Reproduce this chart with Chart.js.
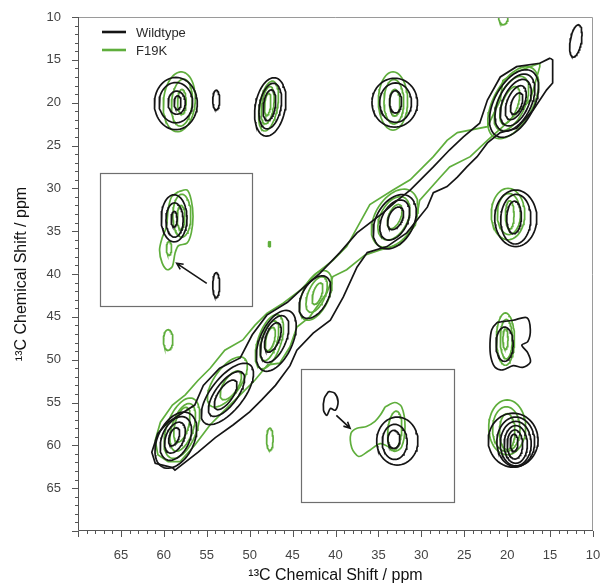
<!DOCTYPE html>
<html>
<head>
<meta charset="utf-8">
<script src="https://cdn.jsdelivr.net/npm/chart.js@4.4.1/dist/chart.umd.min.js"></script>
<style>
  html, body { margin: 0; padding: 0; background: #fff; }
  #wrap { width: 603px; height: 588px; }
</style>
</head>
<body>
<div id="wrap"><canvas id="chartNmr"></canvas></div>
<script>
// axis labels (ppm)
var xTickLabels = [65, 60, 55, 50, 45, 40, 35, 30, 25, 20, 15, 10];
var yTickLabels = [10, 15, 20, 25, 30, 35, 40, 45, 50, 55, 60, 65];

// contour rings: [shift x, shift y, semi-axis a, semi-axis b, angle of a (deg)] in ppm
var wildtypeRings = [
  [58.6, 59.4, 3.5, 2.1, 64], [58.6, 59.2, 2.7, 1.6, 66], [58.7, 59.1, 1.9, 1.05, 68], [58.8, 59.0, 1.1, 0.55, 70],
  [52.6, 54.0, 4.3, 1.9, 52], [52.7, 54.0, 3.1, 1.3, 54], [52.8, 54.1, 2.0, 0.85, 56],
  [46.9, 47.8, 3.8, 1.9, 66], [47.1, 47.6, 2.9, 1.35, 68], [47.3, 47.4, 1.8, 0.8, 70],
  [42.4, 42.7, 2.7, 1.5, 62],
  [33.1, 33.9, 3.4, 2.2, 62], [33.1, 33.7, 2.5, 1.5, 64], [33.0, 33.5, 1.4, 0.8, 66],
  [19.2, 20.1, 4.3, 2.3, 62], [19.1, 20.0, 3.6, 1.9, 64], [19.0, 20.0, 2.9, 1.5, 66], [19.0, 20.0, 2.1, 1.0, 68], [18.9, 20.1, 1.3, 0.6, 70],
  [58.6, 20.1, 3.05, 2.5, 90], [58.6, 20.0, 2.35, 1.95, 90], [58.5, 20.0, 1.35, 1.0, 90], [58.4, 20.0, 0.8, 0.4, 90],
  [53.9, 19.7, 1.15, 0.4, 90],
  [47.6, 20.5, 3.45, 1.75, 80], [47.6, 20.4, 2.7, 1.25, 80], [47.7, 20.3, 1.8, 0.7, 82],
  [33.1, 20.0, 2.85, 2.65, 90], [33.0, 20.0, 2.3, 1.85, 90], [33.0, 19.9, 1.3, 0.7, 90],
  [12.0, 12.8, 1.9, 0.65, 80],
  [19.0, 33.5, 3.3, 2.45, 90], [19.0, 33.6, 2.9, 1.75, 88], [19.2, 33.4, 1.9, 0.85, 88],
  [20.3, 48.2, 2.0, 1.0, 90],
  [19.3, 59.4, 3.15, 2.9, 90], [19.0, 59.6, 2.9, 2.2, 90], [19.0, 59.8, 2.6, 1.8, 90], [19.0, 59.9, 2.2, 1.35, 90], [19.1, 59.9, 1.7, 0.9, 90], [19.2, 59.7, 1.0, 0.45, 90],
  [58.8, 33.5, 2.75, 1.5, 90], [58.75, 33.7, 2.0, 1.0, 90], [58.8, 33.6, 0.9, 0.35, 90],
  [53.9, 41.3, 1.45, 0.4, 90],
  [32.8, 59.5, 2.8, 2.4, 90], [33.1, 59.6, 2.05, 1.45, 90], [33.2, 59.3, 1.05, 0.7, 90]
];

var f19kRings = [
  [57.9, 58.0, 3.7, 1.75, 70], [57.8, 57.9, 2.9, 1.25, 72], [57.9, 57.6, 2.1, 0.8, 75],
  [52.6, 52.6, 3.4, 1.55, 55], [52.2, 53.0, 1.9, 0.85, 58],
  [47.7, 47.9, 3.3, 1.35, 72], [47.7, 47.8, 2.4, 0.9, 74], [47.6, 47.6, 1.4, 0.5, 76],
  [42.3, 42.5, 3.1, 1.55, 66], [42.2, 42.4, 2.2, 1.0, 68], [42.1, 42.3, 1.3, 0.5, 72],
  [33.1, 33.5, 3.7, 2.3, 60], [33.2, 33.5, 2.7, 1.6, 64], [33.1, 33.3, 1.5, 0.7, 68],
  [19.3, 20.0, 4.6, 2.3, 62], [19.5, 20.1, 3.4, 1.6, 66], [19.7, 20.3, 2.3, 0.9, 70],
  [58.2, 19.9, 3.5, 1.85, 85], [57.9, 20.0, 2.75, 1.2, 85], [57.9, 19.9, 1.45, 0.5, 90],
  [47.8, 20.4, 2.95, 1.05, 80], [47.9, 20.3, 2.2, 0.7, 82], [47.9, 20.2, 1.3, 0.35, 85],
  [33.3, 19.8, 3.4, 1.7, 90], [33.2, 19.9, 2.6, 1.15, 90], [33.1, 20.0, 1.55, 0.6, 90],
  [20.45, 9.9, 1.0, 0.55, 90],
  [19.9, 33.0, 3.0, 1.95, 90], [19.8, 33.0, 2.4, 1.35, 90], [19.7, 33.1, 1.65, 0.5, 90],
  [20.2, 47.6, 3.05, 1.05, 90], [20.1, 47.6, 2.3, 0.7, 90], [20.2, 47.6, 1.2, 0.3, 90],
  [20.0, 57.9, 3.2, 2.15, 90], [20.1, 58.1, 2.6, 1.6, 90], [20.0, 58.4, 2.1, 0.9, 90],
  [47.7, 36.5, 0.3, 0.12, 90],
  [59.5, 47.7, 1.2, 0.55, 90],
  [47.65, 59.3, 1.3, 0.38, 90],
  [57.9, 33.2, 2.5, 1.05, 90], [58.0, 33.4, 1.4, 0.45, 90], [59.4, 37.0, 0.8, 0.3, 90],
  [33.1, 58.3, 2.3, 0.8, 85]
];

// traced outer contours, [x, y] in ppm
var wildtypeDiagonal = [
  [15.0, 14.8], [16.2, 15.4], [18.9, 15.8], [20.8, 17.0], [22.3, 19.7], [23.2, 22.4], [25.1, 24.0], [26.7, 25.5],
  [28.6, 27.5], [31.3, 30.2], [32.8, 31.4], [34.5, 32.9], [37.5, 35.2], [39.5, 37.5], [41.8, 39.9], [44.1, 41.9],
  [45.6, 43.3], [48.0, 44.8], [49.7, 47.1], [51.1, 49.8], [53.5, 51.0], [55.4, 53.0], [56.4, 55.3], [57.8, 56.2],
  [59.5, 57.3], [60.7, 58.6], [61.4, 60.8], [61.0, 62.1], [59.0, 62.6],
  [58.7, 62.9], [56.0, 60.8], [54.0, 59.1], [51.9, 57.6], [50.0, 56.1], [48.6, 54.7], [47.0, 53.0], [45.3, 50.7],
  [44.5, 48.9], [42.6, 46.9], [40.6, 45.4], [39.1, 42.7], [37.5, 39.2], [36.3, 37.5], [34.0, 36.8], [31.7, 35.2],
  [29.3, 32.2], [28.6, 30.5], [27.0, 29.8], [25.8, 28.7], [24.7, 27.5], [23.5, 26.3], [22.3, 24.7], [20.8, 23.5],
  [18.9, 23.0], [17.0, 20.9], [15.4, 18.5], [14.7, 17.7], [14.7, 15.0]
];
var wildtypeCross48 = [
  [20.8, 45.6], [19.3, 45.4], [17.7, 45.1], [17.3, 46.5], [17.6, 47.9], [18.3, 48.3], [17.6, 49.2], [17.3, 50.3],
  [18.2, 50.9], [19.3, 50.7], [20.5, 51.2], [21.4, 50.9], [21.9, 49.7], [22.0, 48.1], [21.8, 46.5], [21.2, 45.7]
];
var wildtypeInsetSmall = [
  [40.8, 53.7], [40.1, 53.9], [39.7, 54.9], [40.0, 55.9], [40.6, 55.7], [41.0, 56.5], [41.4, 55.9], [41.3, 54.5]
];

var f19kDiagonal = [
  [16.2, 15.4], [18.9, 16.4], [20.5, 17.4], [20.8, 19.7], [22.3, 22.8], [25.8, 23.5], [27.0, 24.4], [28.6, 26.3],
  [31.3, 29.0], [33.3, 30.2], [36.0, 31.9], [38.7, 36.8], [40.3, 38.4], [42.2, 39.9], [44.1, 41.9], [46.1, 43.4],
  [48.0, 44.6], [49.4, 46.0], [50.8, 47.7], [52.9, 48.9], [54.6, 51.0], [56.0, 52.4], [57.5, 54.1], [59.0, 55.3],
  [60.4, 57.3], [61.0, 59.4], [60.7, 61.1], [59.5, 61.9],
  [58.1, 61.9], [56.4, 60.0], [54.6, 57.6], [52.9, 55.9], [51.1, 54.1], [49.4, 52.4], [47.9, 50.6], [46.5, 50.4],
  [45.3, 48.5], [44.5, 46.2], [43.0, 45.0], [41.0, 42.2], [40.3, 40.3], [38.7, 39.5], [36.6, 37.8], [34.8, 37.2],
  [32.5, 36.6], [30.7, 34.3], [30.2, 31.4], [27.8, 28.7], [26.7, 27.5], [24.3, 26.3], [22.3, 24.4], [20.5, 22.8],
  [17.3, 19.7], [16.2, 15.8]
];
var f19kInset1 = [
  [58.3, 30.4], [57.3, 30.2], [56.8, 31.4], [56.6, 33.3], [56.8, 35.2], [57.3, 36.4], [58.3, 36.7], [58.7, 37.6],
  [59.0, 39.1], [59.6, 39.5], [60.2, 38.7], [60.5, 37.2], [60.2, 35.8], [59.7, 34.5], [59.5, 32.5], [59.1, 31.0]
];
var f19kInset2 = [
  [34.2, 55.5], [33.1, 55.0], [32.3, 55.5], [31.9, 57.8], [32.3, 60.2], [33.1, 60.7], [33.8, 60.2], [34.8, 59.8],
  [36.2, 60.7], [37.3, 61.3], [38.1, 60.3], [38.2, 58.6], [37.5, 58.0], [36.4, 57.8], [35.4, 57.2], [34.8, 56.5]
];

// inset frames [x1, y1, x2, y2] and arrows [from x, from y, to x, to y], ppm
var insetBoxes = [[67.4, 28.2, 49.7, 43.7], [44.0, 51.1, 26.2, 66.6]];
var insetArrows = [[55.0, 41.1, 58.5, 38.75], [39.9, 56.5, 38.3, 58.0]];

(function () {
  "use strict";

  var BLACK = "#151515";
  var GREEN = "#5fae3c";
  var FONT = "'Liberation Sans', Arial, sans-serif";

  function ringPoints(r) {
    var pts = [];
    var th = r[4] * Math.PI / 180;
    for (var i = 0; i <= 60; i++) {
      var t = i / 60 * 2 * Math.PI;
      var u = r[2] * Math.cos(t), v = r[3] * Math.sin(t);
      pts.push({ x: r[0] + u * Math.cos(th) - v * Math.sin(th), y: r[1] + u * Math.sin(th) + v * Math.cos(th) });
    }
    return pts;
  }

  function outlinePoints(list) {
    var pts = list.map(function (p) { return { x: p[0], y: p[1] }; });
    pts.push({ x: list[0][0], y: list[0][1] });
    return pts;
  }

  function contour(points, color, tension) {
    return {
      data: points,
      showLine: true,
      borderColor: color,
      borderWidth: 1.7,
      pointRadius: 0,
      tension: tension || 0,
      fill: false
    };
  }

  var datasets = [];
  datasets.push(contour(outlinePoints(wildtypeDiagonal), BLACK));
  datasets.push(contour(outlinePoints(wildtypeCross48), BLACK, 0.3));
  datasets.push(contour(outlinePoints(wildtypeInsetSmall), BLACK, 0.3));
  wildtypeRings.forEach(function (r) { datasets.push(contour(ringPoints(r), BLACK)); });
  datasets.push(contour(outlinePoints(f19kDiagonal), GREEN));
  datasets.push(contour(outlinePoints(f19kInset1), GREEN, 0.3));
  datasets.push(contour(outlinePoints(f19kInset2), GREEN, 0.3));
  f19kRings.forEach(function (r) { datasets.push(contour(ringPoints(r), GREEN)); });

  // frame, minor ticks, insets, arrows and legend
  var decorPlugin = {
    id: "decor",
    afterDatasetsDraw: function (chart) {
      var ctx = chart.ctx;
      var a = chart.chartArea;
      var xs = chart.scales.x, ys = chart.scales.y;
      ctx.save();

      // inset boxes
      ctx.strokeStyle = "#6e6e6e";
      ctx.lineWidth = 1.2;
      insetBoxes.forEach(function (b) {
        var x1 = xs.getPixelForValue(b[0]), y1 = ys.getPixelForValue(b[1]);
        var x2 = xs.getPixelForValue(b[2]), y2 = ys.getPixelForValue(b[3]);
        ctx.strokeRect(Math.round(x1) + 0.5, Math.round(y1) + 0.5, Math.round(x2 - x1), Math.round(y2 - y1));
      });

      // arrows
      ctx.strokeStyle = BLACK;
      ctx.lineWidth = 1.6;
      insetArrows.forEach(function (r) {
        var x1 = xs.getPixelForValue(r[0]), y1 = ys.getPixelForValue(r[1]);
        var x2 = xs.getPixelForValue(r[2]), y2 = ys.getPixelForValue(r[3]);
        var ang = Math.atan2(y2 - y1, x2 - x1);
        ctx.beginPath();
        ctx.moveTo(x1, y1);
        ctx.lineTo(x2, y2);
        ctx.moveTo(x2 - 7 * Math.cos(ang - 0.45), y2 - 7 * Math.sin(ang - 0.45));
        ctx.lineTo(x2, y2);
        ctx.lineTo(x2 - 7 * Math.cos(ang + 0.45), y2 - 7 * Math.sin(ang + 0.45));
        ctx.stroke();
      });

      // plot frame
      ctx.lineWidth = 1;
      ctx.strokeStyle = "#9a9a9a";
      ctx.beginPath();
      ctx.moveTo(a.left, a.top + 0.5);
      ctx.lineTo(a.right - 0.5, a.top + 0.5);
      ctx.lineTo(a.right - 0.5, a.bottom);
      ctx.stroke();
      ctx.strokeStyle = "#555";
      ctx.beginPath();
      ctx.moveTo(a.left + 0.5, a.top);
      ctx.lineTo(a.left + 0.5, a.bottom - 0.5);
      ctx.lineTo(a.right, a.bottom - 0.5);
      ctx.stroke();

      // ticks, every ppm, longer at labels
      ctx.beginPath();
      for (var v = 10; v <= 70; v++) {
        var len = v % 5 === 0 ? 6 : 3;
        var px = Math.round(xs.getPixelForValue(v)) + 0.5;
        ctx.moveTo(px, a.bottom);
        ctx.lineTo(px, a.bottom + len);
        var py = Math.round(ys.getPixelForValue(v)) + 0.5;
        ctx.moveTo(a.left, py);
        ctx.lineTo(a.left - len, py);
      }
      ctx.stroke();

      // legend
      var lx = a.left + 24, ly = a.top + 15;
      [["Wildtype", BLACK], ["F19K", GREEN]].forEach(function (e, i) {
        var y = ly + i * 18;
        ctx.strokeStyle = e[1];
        ctx.lineWidth = 2.6;
        ctx.beginPath();
        ctx.moveTo(lx, y);
        ctx.lineTo(lx + 24, y);
        ctx.stroke();
        ctx.fillStyle = "#2a2a2a";
        ctx.font = "13px " + FONT;
        ctx.textBaseline = "middle";
        ctx.textAlign = "left";
        ctx.fillText(e[0], lx + 34, y + 1);
      });

      ctx.restore();
    }
  };

  var ctx = document.getElementById("chartNmr");
  var nmrChart = new Chart(ctx, {
    type: "scatter",
    data: { datasets: datasets },
    plugins: [decorPlugin],
    options: {
      responsive: true,
      maintainAspectRatio: false,
      animation: false,
      events: [],
      layout: { padding: { top: 17, right: 10, left: 0, bottom: 0 } },
      plugins: {
        legend: { display: false },
        tooltip: { enabled: false }
      },
      scales: {
        x: {
          type: "linear",
          min: 10,
          max: 70,
          reverse: true,
          grid: { display: false },
          border: { display: false },
          ticks: {
            stepSize: 5,
            autoSkip: false,
            maxRotation: 0,
            padding: 9,
            color: "#444",
            font: { family: FONT, size: 13 },
            callback: function (v) { return xTickLabels.indexOf(v) >= 0 ? String(v) : ""; }
          },
          title: {
            display: true,
            text: "\u00b9\u00b3C Chemical Shift / ppm",
            color: "#111",
            font: { family: FONT, size: 16 },
            padding: { top: 2, bottom: 3 }
          },
          afterFit: function (s) {
            s.height = 57;
            s.paddingLeft = 0;
            s.paddingRight = 0;
          }
        },
        y: {
          type: "linear",
          min: 10,
          max: 70,
          reverse: true,
          grid: { display: false },
          border: { display: false },
          ticks: {
            stepSize: 5,
            autoSkip: false,
            padding: 9,
            color: "#444",
            font: { family: FONT, size: 13 },
            callback: function (v) { return yTickLabels.indexOf(v) >= 0 ? String(v) : ""; }
          },
          title: {
            display: true,
            text: "\u00b9\u00b3C Chemical Shift / ppm",
            color: "#111",
            font: { family: FONT, size: 16 },
            padding: { top: 12, bottom: 2 }
          },
          afterFit: function (s) {
            s.width = 78;
            s.paddingTop = 0;
            s.paddingBottom = 0;
          }
        }
      }
    }
  });
})();
</script>
</body>
</html>
